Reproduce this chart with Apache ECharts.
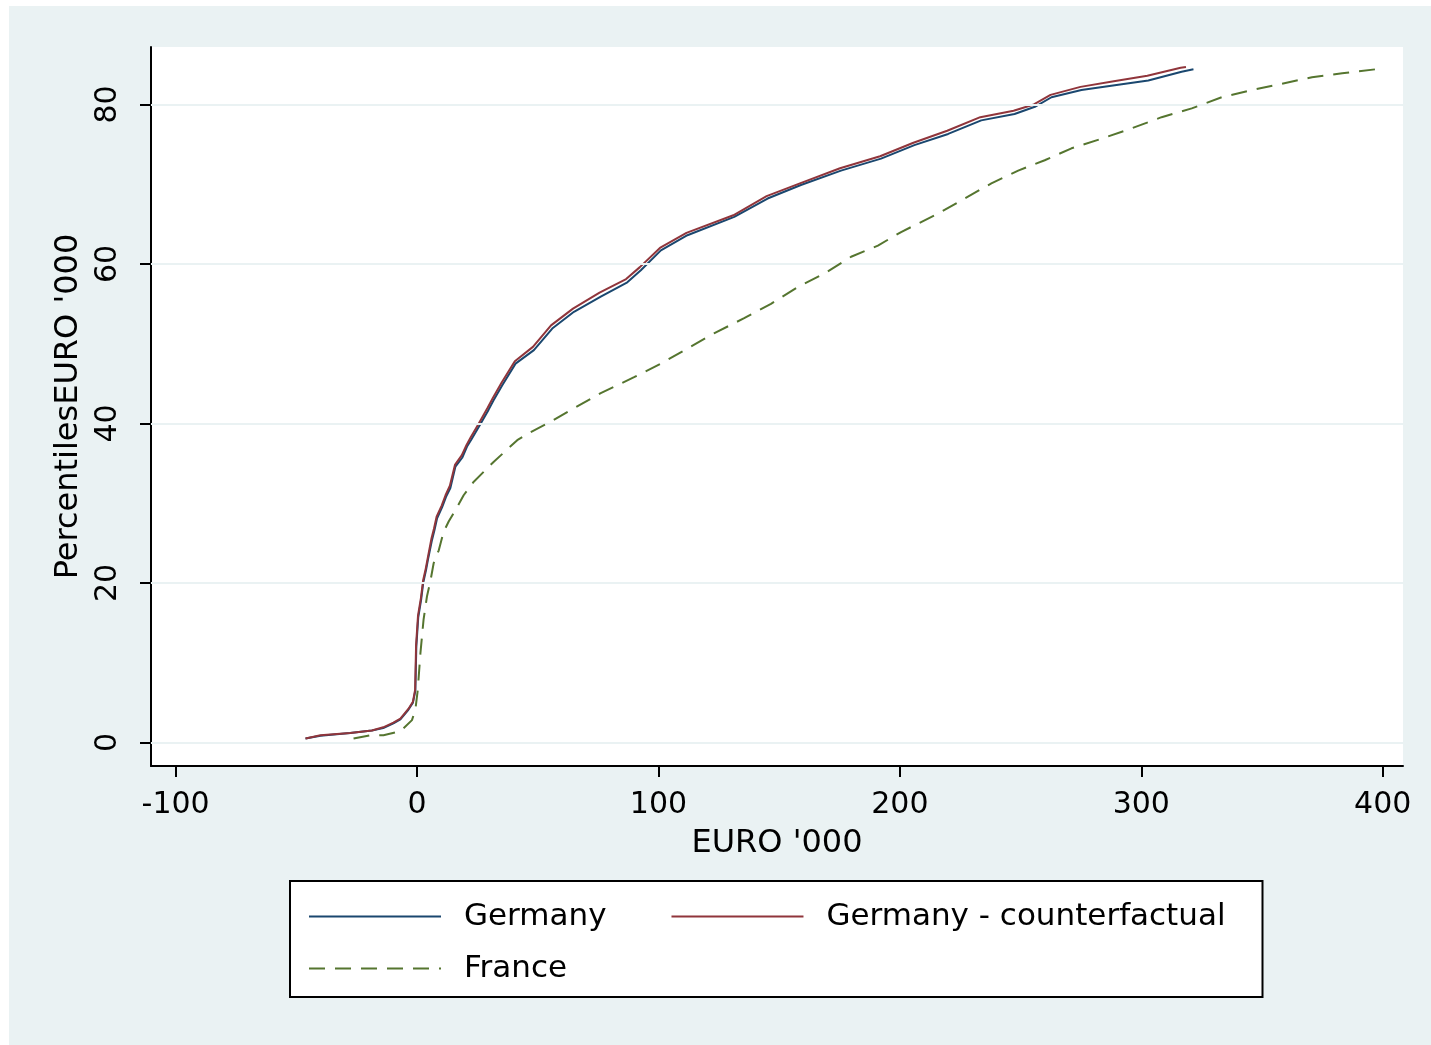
<!DOCTYPE html>
<html>
<head>
<meta charset="utf-8">
<script src="https://cdn.jsdelivr.net/npm/echarts@6/dist/echarts.min.js"></script>
<style>
  html, body { margin: 0; padding: 0; background: #ffffff; }
  #chart { position: absolute; left: 9px; top: 6px; width: 1422px; height: 1039px; background: #EAF2F3; }
</style>
</head>
<body>
<div id="chart"></div>
<script>
// ---- Data ----
const germanyX = [-46.2, -40, -27.7, -18.7, -14, -9.8, -6.9, -3.6, -1.7, -0.7, -0.3, 0.5, 1.7, 2.6, 3.7, 4.7, 6.2, 7.2, 8.3, 10.4, 12.0, 13.8, 15.9, 18.7, 20.7, 22.5, 25.6, 29.6, 31.7, 35.3, 40.8, 48.4, 56, 65, 76.1, 87.1, 92.7, 101, 112, 131.4, 145.2, 159, 175.6, 192.2, 206, 220, 233.7, 247.5, 255.9, 262.8, 275.2, 289, 302.9, 316.7, 321.6];
const germanyY = [0.5, 0.85, 1.2, 1.5, 1.8, 2.4, 2.9, 4.1, 5.0, 6.5, 12.0, 15.7, 17.9, 20.1, 21.6, 23.2, 25.4, 26.6, 28.1, 29.5, 30.8, 31.9, 34.6, 35.7, 37.1, 38.0, 39.6, 41.7, 42.9, 44.8, 47.5, 49.2, 51.9, 54.0, 55.9, 57.7, 59.2, 61.7, 63.6, 65.9, 68.2, 69.9, 71.7, 73.2, 74.9, 76.3, 78.0, 78.8, 79.7, 80.9, 81.8, 82.4, 83.0, 84.1, 84.4];

const counterX = [-46.2, -40, -27.7, -18.7, -14, -9.8, -6.9, -3.6, -1.7, -0.8, -0.4, 0.4, 1.6, 2.5, 3.6, 4.6, 6.0, 7.0, 8.1, 10.2, 11.8, 13.6, 15.7, 18.5, 20.5, 22.3, 25.4, 29.3, 31.4, 35.0, 40.5, 48.0, 55.5, 64.6, 75.6, 86.6, 92.3, 100.6, 111.6, 131.0, 144.8, 158.6, 175.2, 191.8, 205.6, 219.6, 233.3, 247.1, 255.5, 262.4, 274.8, 288.6, 302.5, 316.3, 318.5];
const counterY = [0.5, 0.9, 1.2, 1.5, 1.9, 2.5, 3.0, 4.2, 5.1, 6.6, 12.2, 15.9, 18.1, 20.3, 21.8, 23.4, 25.6, 26.8, 28.3, 29.7, 31.0, 32.2, 34.8, 36.0, 37.3, 38.3, 39.9, 42.0, 43.2, 45.1, 47.8, 49.6, 52.3, 54.4, 56.4, 58.1, 59.6, 62.0, 63.9, 66.1, 68.5, 70.1, 72.0, 73.5, 75.2, 76.7, 78.4, 79.2, 80.0, 81.2, 82.2, 82.9, 83.6, 84.6, 84.7];

const franceX = [-26.3, -19.4, -13.9, -6.9, -2.1, -0.7, 0.3, 1.4, 2.7, 4.1, 5.5, 6.9, 9.0, 11.0, 13.1, 16.6, 19.3, 23.5, 31.8, 41.5, 47, 55.3, 65, 76.1, 89.9, 101, 112, 123, 135.5, 146.6, 157.7, 168.7, 179.8, 190.9, 200.5, 215.8, 226.8, 237.9, 249, 260, 271.1, 283.5, 296, 308.4, 320.9, 333.3, 345.8, 358.3, 370.7, 383.2, 396.9];
const franceY = [0.5, 0.9, 0.9, 1.4, 2.8, 4.1, 6.6, 11.2, 15.4, 18.3, 20.2, 22.5, 24.1, 26.4, 27.7, 29.5, 31.0, 32.7, 35.2, 37.9, 38.9, 40.2, 41.9, 43.8, 45.8, 47.5, 49.4, 51.3, 53.2, 55.0, 57.1, 58.8, 60.9, 62.3, 64.0, 66.3, 68.2, 70.1, 71.7, 73.0, 74.5, 75.7, 77.0, 78.4, 79.5, 80.9, 81.8, 82.6, 83.4, 83.9, 84.4];

const xTicks = [-100, 0, 100, 200, 300, 400];
const yTicks = [0, 20, 40, 60, 80];
const seriesNames = ['Germany', 'Germany - counterfactual', 'France'];
const xTitle = "EURO '000";
const yTitle = "PercentilesEURO '000";

function pairs(xs, ys) { return xs.map((x, i) => [x, ys[i]]); }

const FONT = 'DejaVu Sans';
const chart = echarts.init(document.getElementById('chart'), null, { renderer: 'canvas' });

const legendCommon = {
  orient: 'horizontal',
  itemWidth: 132, itemHeight: 30,
  selectedMode: false,
  itemStyle: { color: 'transparent', borderWidth: 0, opacity: 0 },
  lineStyle: { width: 2 },
  textStyle: { fontSize: 31, color: '#000', fontFamily: FONT, padding: [0, 0, 0, 18] }
};

const option = {
  animation: false,
  backgroundColor: '#EAF2F3',
  textStyle: { fontFamily: FONT },
  grid: {
    left: 142, top: 41, right: 28, bottom: 279,
    show: true, backgroundColor: '#ffffff', borderWidth: 0
  },
  xAxis: {
    type: 'value',
    min: -110.2, max: 408.4,
    name: xTitle,
    nameLocation: 'middle',
    nameGap: 62,
    nameTextStyle: { fontSize: 32, color: '#000', fontFamily: FONT },
    axisLine: { show: true, onZero: false, lineStyle: { color: '#000', width: 2 } },
    axisTick: { show: true, customValues: xTicks, length: 11, lineStyle: { color: '#000', width: 2 } },
    axisLabel: { customValues: xTicks, fontSize: 30, color: '#000', fontFamily: FONT, margin: 24 },
    splitLine: { show: false }
  },
  yAxis: {
    type: 'value',
    min: -2.95, max: 87.2,
    name: yTitle,
    nameLocation: 'middle',
    nameGap: 64,
    nameTextStyle: { fontSize: 32, color: '#000', fontFamily: FONT },
    axisLine: { show: true, onZero: false, lineStyle: { color: '#000', width: 2 } },
    axisTick: { show: true, customValues: yTicks, length: 11, lineStyle: { color: '#000', width: 2 } },
    axisLabel: { customValues: yTicks, rotate: 90, fontSize: 30, color: '#000', fontFamily: FONT, margin: 28 },
    splitLine: { show: false }
  },
  legend: [
    Object.assign({}, legendCommon, {
      data: [seriesNames[0], seriesNames[1]],
      left: 281, top: 875,
      itemGap: 64,
      padding: [20, 37, 65, 18],
      backgroundColor: '#ffffff',
      borderColor: '#000', borderWidth: 2
    }),
    Object.assign({}, legendCommon, {
      data: [seriesNames[2]],
      left: 299, top: 947,
      padding: 0
    })
  ],
  series: [
    {
      name: 'gridlines', type: 'line', data: [], silent: true,
      markLine: {
        silent: true, symbol: 'none', label: { show: false },
        lineStyle: { color: '#EAF2F3', width: 2, type: 'solid' },
        data: yTicks.map(v => ({ yAxis: v }))
      },
      z: 1
    },
    {
      name: seriesNames[0], type: 'line', data: pairs(germanyX, germanyY),
      symbol: 'none', showSymbol: false, color: '#1a476f',
      lineStyle: { color: '#1a476f', width: 2 }, z: 3
    },
    {
      name: seriesNames[1], type: 'line', data: pairs(counterX, counterY),
      symbol: 'none', showSymbol: false, color: '#90353b',
      lineStyle: { color: '#90353b', width: 2 }, z: 4
    },
    {
      name: seriesNames[2], type: 'line', data: pairs(franceX, franceY),
      symbol: 'none', showSymbol: false, color: '#55752f',
      lineStyle: { color: '#55752f', width: 2, type: [16, 10] }, z: 5
    }
  ]
};
chart.setOption(option);
</script>
</body>
</html>
